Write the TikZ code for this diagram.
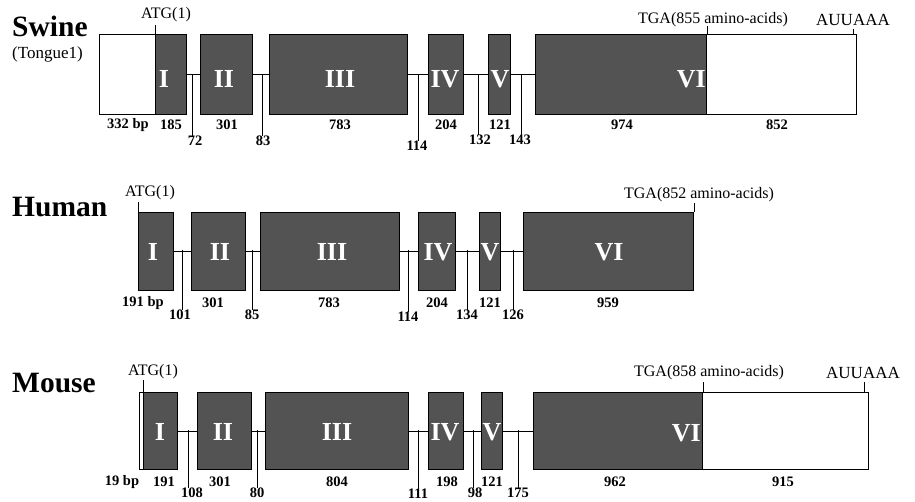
\documentclass[tikz,border=0pt]{standalone}
\usepackage{fontspec}
\setmainfont{Liberation Serif}
\definecolor{exgray}{HTML}{535353}
\tikzset{
  exon/.style={draw=black, line width=1.1pt, fill=exgray, inner sep=0pt, anchor=north west},
  utr/.style={draw=black, line width=0.8pt, fill=white, inner sep=0pt, anchor=north west},
  rn/.style={text=white, font=\fontsize{26}{26}\selectfont\bfseries, inner sep=0pt},
  num/.style={font=\fontsize{14.5}{14.5}\selectfont\bfseries, inner sep=0pt},
  sitelbl/.style={font=\fontsize{16}{16}\selectfont, inner sep=0pt},
  species/.style={font=\fontsize{29.5}{29.5}\selectfont\bfseries, inner sep=0pt, anchor=west},
  intron/.style={line width=0.9pt},
  ticker/.style={line width=0.7pt},
}
\begin{document}
\begin{tikzpicture}[x=1pt,y=-1pt]
\useasboundingbox (0,0) rectangle (915,501);
% ================= Swine =================
\node[species] (swine) at (12,26) {Swine};
\node[sitelbl, font=\fontsize{17}{17}\selectfont, anchor=west] (tongue) at (12,54) {(Tongue1)};
\node[utr,  minimum width=56,  minimum height=80] (sU5) at (99,34) {};
\node[exon, minimum width=31,  minimum height=80] (sI)   at (155,34) {};
\node[exon, minimum width=52,  minimum height=80] (sII)  at (200,34) {};
\node[exon, minimum width=138, minimum height=80] (sIII) at (269,34) {};
\node[exon, minimum width=35,  minimum height=80] (sIV)  at (428,34) {};
\node[exon, minimum width=22,  minimum height=80] (sV)   at (488,34) {};
\node[exon, minimum width=171, minimum height=80] (sVI)  at (535,34) {};
\node[utr,  minimum width=150, minimum height=80] (sU3)  at (706,34) {};
\draw[intron] (sI.east) -- (sII.west);
\draw[intron] (sII.east) -- (sIII.west);
\draw[intron] (sIII.east) -- (sIV.west);
\draw[intron] (sIV.east) -- (sV.west);
\draw[intron] (sV.east) -- (sVI.west);
\node[rn] (sIr)   at (164,79) {I};
\node[rn] (sIIr)  at (224,79) {II};
\node[rn] (sIIIr) at (340,79) {III};
\node[rn] (sIVr)  at (445,79) {IV};
\node[rn] (sVr)   at (500,79) {V};
\node[rn, anchor=east] (sVIr) at (706,79) {VI};
\node[num] (sn1) at (128,125) {332 bp};
\node[num] (sn2) at (171,125) {185};
\node[num] (sn3) at (227,125) {301};
\node[num] (sn4) at (340,125) {783};
\node[num] (sn5) at (446,125) {204};
\node[num] (sn6) at (500,125) {121};
\node[num] (sn7) at (622,125) {974};
\node[num] (sn8) at (777,125) {852};
\node[num] (st1) at (195,141) {72};
\node[num] (st2) at (263,141) {83};
\node[num] (st3) at (417,146) {114};
\node[num] (st4) at (480,140) {132};
\node[num] (st5) at (520,140) {143};
\coordinate (sc1) at (192,75);
\coordinate (sc2) at (262,75);
\coordinate (sc3) at (418,75);
\coordinate (sc4) at (478,75);
\coordinate (sc5) at (521,75);
\draw[ticker] (sc1) -- (sc1 |- st1.north);
\draw[ticker] (sc2) -- (sc2 |- st2.north);
\draw[ticker] (sc3) -- (sc3 |- st3.north);
\draw[ticker] (sc4) -- (sc4 |- st4.north);
\draw[ticker] (sc5) -- (sc5 |- st5.north);
\node[sitelbl] (satg) at (166,15) {ATG(1)};
\draw[ticker] (sI.north west) -- ++(0,-9);
\node[sitelbl] (stga) at (713,20) {TGA(855 amino-acids)};
\draw[ticker] (sVI.north east) -- ++(0,-8);
\node[sitelbl, font=\fontsize{17}{17}\selectfont] (spa) at (853,20) {AUUAAA};
\coordinate (spac) at ([xshift=-3pt]sU3.north east);
\draw[ticker] (spac) -- ++(0,-5);
% ================= Human =================
\node[species] (human) at (12,207) {Human};
\node[exon, minimum width=35,  minimum height=78] (hI)   at (138,212) {};
\node[exon, minimum width=54,  minimum height=78] (hII)  at (191,212) {};
\node[exon, minimum width=139, minimum height=78] (hIII) at (260,212) {};
\node[exon, minimum width=37,  minimum height=78] (hIV)  at (418,212) {};
\node[exon, minimum width=21,  minimum height=78] (hV)   at (479,212) {};
\node[exon, minimum width=170, minimum height=78] (hVI)  at (523,212) {};
\draw[intron] (hI.east) -- (hII.west);
\draw[intron] (hII.east) -- (hIII.west);
\draw[intron] (hIII.east) -- (hIV.west);
\draw[intron] (hIV.east) -- (hV.west);
\draw[intron] (hV.east) -- (hVI.west);
\node[rn] (hIr)   at (153,252) {I};
\node[rn] (hIIr)  at (220,252) {II};
\node[rn] (hIIIr) at (332,252) {III};
\node[rn] (hIVr)  at (438,252) {IV};
\node[rn] (hVr)   at (490,252) {V};
\node[rn] (hVIr)  at (609,252) {VI};
\node[num] (hn1) at (143,303) {191 bp};
\node[num] (hn2) at (213,303) {301};
\node[num] (hn3) at (329,303) {783};
\node[num] (hn4) at (437,303) {204};
\node[num] (hn5) at (490,303) {121};
\node[num] (hn6) at (608,303) {959};
\node[num] (ht1) at (180,315) {101};
\node[num] (ht2) at (252,315) {85};
\node[num] (ht3) at (408,317) {114};
\node[num] (ht4) at (467,315) {134};
\node[num] (ht5) at (513,315) {126};
\coordinate (hc1) at (182,250);
\coordinate (hc2) at (252,250);
\coordinate (hc3) at (408,250);
\coordinate (hc4) at (467,250);
\coordinate (hc5) at (513,250);
\draw[ticker] (hc1) -- (hc1 |- ht1.north);
\draw[ticker] (hc2) -- (hc2 |- ht2.north);
\draw[ticker] (hc3) -- (hc3 |- ht3.north);
\draw[ticker] (hc4) -- (hc4 |- ht4.north);
\draw[ticker] (hc5) -- (hc5 |- ht5.north);
\node[sitelbl] (hatg) at (150,193) {ATG(1)};
\draw[ticker] (hI.north west) -- ++(0,-10);
\node[sitelbl] (htga) at (699,195) {TGA(852 amino-acids)};
\draw[ticker] (hVI.north east) -- ++(0,-9);
% ================= Mouse =================
\node[species] (mouse) at (12,383) {Mouse};
\node[utr,  minimum width=4,   minimum height=77] (mU5)  at (139,392) {};
\node[exon, minimum width=34,  minimum height=77] (mI)   at (143,392) {};
\node[exon, minimum width=54,  minimum height=77] (mII)  at (197,392) {};
\node[exon, minimum width=143, minimum height=77] (mIII) at (265,392) {};
\node[exon, minimum width=35,  minimum height=77] (mIV)  at (428,392) {};
\node[exon, minimum width=21,  minimum height=77] (mV)   at (481,392) {};
\node[exon, minimum width=169, minimum height=77] (mVI)  at (533,392) {};
\node[utr,  minimum width=166, minimum height=77] (mU3)  at (702,392) {};
\draw[intron] (mI.east) -- (mII.west);
\draw[intron] (mII.east) -- (mIII.west);
\draw[intron] (mIII.east) -- (mIV.west);
\draw[intron] (mIV.east) -- (mV.west);
\draw[intron] (mV.east) -- (mVI.west);
\node[rn] (mIr)   at (160,432) {I};
\node[rn] (mIIr)  at (223,432) {II};
\node[rn] (mIIIr) at (337,432) {III};
\node[rn] (mIVr)  at (445,432) {IV};
\node[rn] (mVr)   at (492,432) {V};
\node[rn, anchor=east] (mVIr) at (701,433) {VI};
\node[num] (mn0) at (122,482) {19 bp};
\node[num] (mn1) at (164,482) {191};
\node[num] (mn2) at (220,482) {301};
\node[num] (mn3) at (337,482) {804};
\node[num] (mn4) at (447,482) {198};
\node[num] (mn5) at (492,482) {121};
\node[num] (mn6) at (615,482) {962};
\node[num] (mn7) at (783,482) {915};
\node[num] (mt1) at (192,493) {108};
\node[num] (mt2) at (257,493) {80};
\node[num] (mt3) at (418,494) {111};
\node[num] (mt4) at (475,493) {98};
\node[num] (mt5) at (518,493) {175};
\coordinate (mc1) at (188,430);
\coordinate (mc2) at (257,430);
\coordinate (mc3) at (418,430);
\coordinate (mc4) at (473,430);
\coordinate (mc5) at (518,430);
\draw[ticker] (mc1) -- (mc1 |- mt1.north);
\draw[ticker] (mc2) -- (mc2 |- mt2.north);
\draw[ticker] (mc3) -- (mc3 |- mt3.north);
\draw[ticker] (mc4) -- (mc4 |- mt4.north);
\draw[ticker] (mc5) -- (mc5 |- mt5.north);
\node[sitelbl] (matg) at (153,372) {ATG(1)};
\draw[ticker] (mI.north west) -- ++(0,-12);
\node[sitelbl] (mtga) at (709,373) {TGA(858 amino-acids)};
\draw[ticker] (mVI.north east) -- ++(0,-10);
\node[sitelbl, font=\fontsize{17}{17}\selectfont] (mpa) at (863,373) {AUUAAA};
\coordinate (mpac) at ([xshift=-4pt]mU3.north east);
\draw[ticker] (mpac) -- ++(0,-10);
\end{tikzpicture}
\end{document}
